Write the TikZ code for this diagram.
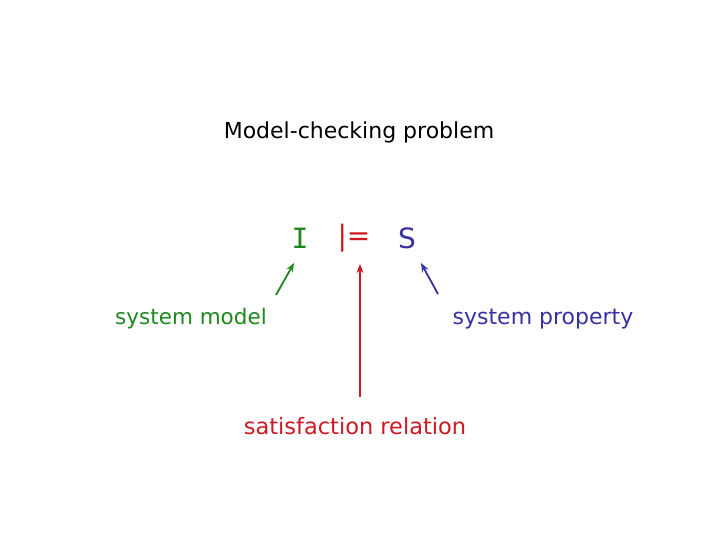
\documentclass[tikz,border=0pt]{standalone}
\usepackage{fontspec}
\setmainfont{DejaVu Sans}
\newfontfamily\monoI{DejaVu Sans Mono}
\usetikzlibrary{arrows.meta}
\definecolor{cgreen}{RGB}{30,135,30}
\definecolor{cred}{RGB}{205,25,35}
\definecolor{cblue}{RGB}{55,50,160}
\begin{document}
\begin{tikzpicture}[x=1pt,y=-1pt,
  lbl/.style={inner sep=0pt,anchor=center},
  conn/.style={line width=1.8pt,-{Stealth[length=9pt,width=7pt]}}]
\useasboundingbox (0,0) rectangle (720,540);
\node[lbl,font=\fontsize{22}{26}\selectfont] (title) at (359,132) {Model-checking problem};
\node[lbl,text=cgreen,font=\monoI\fontsize{28}{32}\selectfont] (I) at (300,238) {I};
\node[lbl,text=cred,font=\fontsize{28}{32}\selectfont] (sat) at (354,238) {|=};
\node[lbl,text=cblue,font=\fontsize{28}{32}\selectfont] (S) at (407,238) {S};
\node[lbl,text=cgreen,font=\fontsize{21.5}{25}\selectfont] (sm) at (191,319) {system model};
\node[lbl,text=cblue,font=\fontsize{22}{26}\selectfont] (sp) at (543,319) {system property};
\node[lbl,text=cred,font=\fontsize{22.5}{26}\selectfont] (sr) at (355,426) {satisfaction relation};
\coordinate (gt) at (276,295);
\coordinate (gh) at (294,263);
\coordinate (rt) at (360,397);
\coordinate (rh) at (360,264);
\coordinate (bt) at (438,294);
\coordinate (bh) at (421,263);
\draw[conn,cgreen] (gt) -- (gh);
\draw[conn,cred] (rt) -- (rh);
\draw[conn,cblue] (bt) -- (bh);
\end{tikzpicture}
\end{document}
